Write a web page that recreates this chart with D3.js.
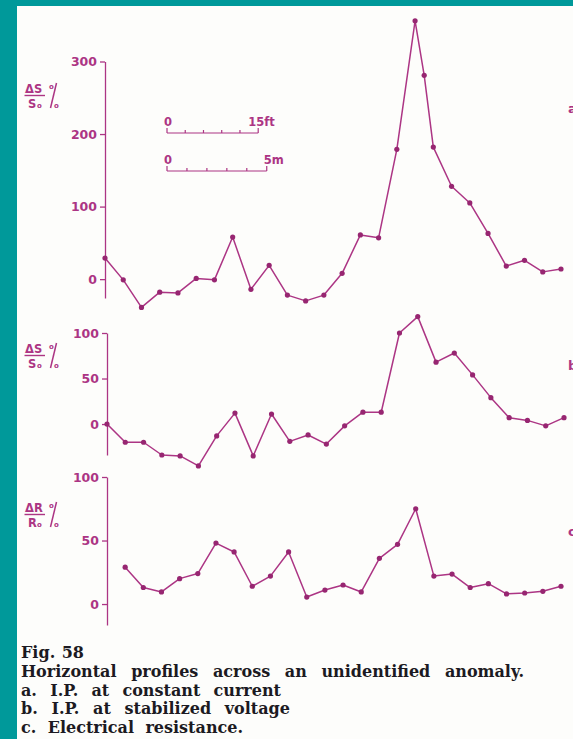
<!DOCTYPE html>
<html>
<head>
<meta charset="utf-8">
<script src="https://cdn.jsdelivr.net/npm/d3@7"></script>
<style>
  html, body { margin: 0; padding: 0; background: #00999a; }
  svg { display: block; }
</style>
</head>
<body>
<svg id="fig" width="573" height="739"></svg>
<script>
// Station positions along the profile (feet) and readings for each profile
const stationsA = [0,3,6,9,12,15,18,21,24,27,30,33,36,39,42,45,48,51,52.5,54,57,60,63,66,69,72,75];
const valuesA   = [29,-1,-39,-18,-19,1,-1,58,-14,19,-22,-30,-22,8,61,57,179,356,281,182,128,105,63,18,26,10,14];

const stationsB = [0,3,6,9,12,15,18,21,24,27,30,33,36,39,42,45,48,51,54,57,60,63,66,69,72,75];
const valuesB   = [0,-20,-20,-34,-35,-46,-13,12,-35,11,-19,-12,-22,-2,13,13,100,118,68,78,54,29,7,4,-2,7];

const stationsC = [3,6,9,12,15,18,21,24,27,30,33,36,39,42,45,48,51,54,57,60,63,66,69,72,75];
const valuesC   = [29,13,9.5,20,24,48,41,14,22,41,5.5,11,15,9.5,36,47,75,22,23.6,13,16,8,8.7,10,14];

const ticksA = [0,100,200,300];
const ticksB = [0,50,100];
const ticksC = [0,50,100];

const captionLines = [
  "Fig. 58",
  "Horizontal profiles across an unidentified anomaly.",
  "a. I.P. at constant current",
  "b. I.P. at stabilized voltage",
  "c. Electrical resistance."
];
// line widths of the caption, set with wide word spacing
const captionWidths = [63, 503, 260, 269, 222];

const INK = "#ac3584";
const DOT = "#972671";

const svg = d3.select("#fig");

// teal surround and page
svg.append("rect").attr("width", 573).attr("height", 739).attr("fill", "#00999a");
svg.append("rect").attr("x", 17).attr("y", 6).attr("width", 556).attr("height", 733).attr("fill", "#fdfdfb");

const panels = [
  { xs: stationsA, ys: valuesA, ticks: ticksA, xr: [105, 561], yd: [-26, 300], yr: [298, 61.5],
    num: "ΔS", den: "S", top: 93, tag: "a", tagY: 113 },
  { xs: stationsB, ys: valuesB, ticks: ticksB, xr: [107, 564], yd: [-34, 100], yr: [455, 333],
    num: "ΔS", den: "S", top: 353, tag: "b", tagY: 370 },
  { xs: stationsC, ys: valuesC, ticks: ticksC, xr: [107, 561], yd: [-16.5, 100], yr: [625, 477],
    num: "ΔR", den: "R", top: 512, tag: "c", tagY: 536 }
];

panels.forEach(p => {
  const x = d3.scaleLinear().domain([0, 75]).range(p.xr);
  const y = d3.scaleLinear().domain(p.yd).range(p.yr);
  p.x = x;

  const axis = svg.append("g")
    .attr("transform", `translate(${x(0)},0)`)
    .call(d3.axisLeft(y).tickValues(p.ticks).tickSize(5).tickSizeOuter(0).tickPadding(3));
  axis.select(".domain").attr("stroke", INK).attr("stroke-width", 1.3);
  axis.selectAll(".tick line").attr("stroke", INK).attr("stroke-width", 1.3);
  axis.selectAll(".tick text")
    .attr("fill", INK)
    .style("font-family", "'DejaVu Sans', sans-serif")
    .style("font-weight", "bold")
    .style("font-size", "12.5px");

  const pts = p.xs.map((s, i) => [s, p.ys[i]]);
  svg.append("path")
    .datum(pts)
    .attr("fill", "none")
    .attr("stroke", INK)
    .attr("stroke-width", 1.5)
    .attr("stroke-linejoin", "round")
    .attr("d", d3.line().x(d => x(d[0])).y(d => y(d[1])));

  svg.append("g").selectAll("circle")
    .data(pts)
    .join("circle")
    .attr("cx", d => x(d[0]))
    .attr("cy", d => y(d[1]))
    .attr("r", 2.6)
    .attr("fill", DOT);

  // ratio label, e.g. ΔS over S0, with a tall percent sign
  const lab = svg.append("g")
    .attr("fill", INK)
    .style("font-family", "'DejaVu Sans', sans-serif")
    .style("font-weight", "bold");
  lab.append("text").attr("x", 25).attr("y", p.top).style("font-size", "11.5px").text(p.num);
  lab.append("line").attr("x1", 24.5).attr("x2", 45).attr("y1", p.top + 2.5).attr("y2", p.top + 2.5)
    .attr("stroke", INK).attr("stroke-width", 1.4);
  lab.append("text").attr("x", 28).attr("y", p.top + 15).style("font-size", "11.5px").text(p.den);
  lab.append("text").attr("x", 37).attr("y", p.top + 15).style("font-size", "7px").text("o");
  // percent sign: two small rings and a long slash
  lab.append("line").attr("x1", 56.5).attr("y1", p.top - 10).attr("x2", 50.5).attr("y2", p.top + 15)
    .attr("stroke", INK).attr("stroke-width", 1.5);
  lab.append("text").attr("x", 49).attr("y", p.top - 4).style("font-size", "7px").text("o");
  lab.append("text").attr("x", 54).attr("y", p.top + 15).style("font-size", "7px").text("o");

  // profile letter at the right margin
  svg.append("text")
    .attr("x", 568).attr("y", p.tagY)
    .attr("fill", INK)
    .style("font-family", "'DejaVu Sans', sans-serif")
    .style("font-weight", "bold")
    .style("font-size", "13px")
    .text(p.tag);
});

// distance scale bars in feet and metres, drawn with the profile scale
const xs = panels[0].x;
const ftPerM = 3.2808;
const bars = [
  { y: 133, len: 15, ticks: [0,3,6,9,12,15], unit: 1, startLabel: "0", endLabel: "15ft", endDx: -10 },
  { y: 171, len: 5 * ftPerM, ticks: [0,1,2,3,4,5], unit: ftPerM, startLabel: "0", endLabel: "5m", endDx: -3 }
];
const bx0 = 167;
bars.forEach(b => {
  const g = svg.append("g").attr("stroke", INK).attr("stroke-width", 1.2);
  const px = v => bx0 + xs(v) - xs(0);
  g.append("line").attr("x1", px(0)).attr("x2", px(b.len)).attr("y1", b.y).attr("y2", b.y);
  b.ticks.forEach((t, i) => {
    const end = i === 0 || i === b.ticks.length - 1;
    g.append("line").attr("x1", px(t * b.unit)).attr("x2", px(t * b.unit))
      .attr("y1", b.y).attr("y2", b.y - (end ? 5 : 3));
  });
  const tg = svg.append("g").attr("fill", INK)
    .style("font-family", "'DejaVu Sans', sans-serif").style("font-weight", "bold").style("font-size", "11.5px");
  tg.append("text").attr("x", px(0) - 3).attr("y", b.y - 7).text(b.startLabel);
  tg.append("text").attr("x", px(b.len) + b.endDx).attr("y", b.y - 7).text(b.endLabel);
});

// caption: a wide serif, words spread to fill each line's width
const cap = svg.append("g")
  .attr("fill", "#1c1a22")
  .style("font-family", "'DejaVu Serif', 'Liberation Serif', serif")
  .style("font-weight", "bold")
  .style("font-size", "16px");
captionLines.forEach((t, i) => {
  const el = cap.append("text")
    .attr("x", 21)
    .attr("y", 658 + i * 18.8)
    .text(t);
  const natural = el.node().getComputedTextLength();
  const gaps = (t.match(/ /g) || []).length;
  if (gaps > 0) {
    const extra = Math.max(-2, Math.min(10, (captionWidths[i] - natural) / gaps));
    el.style("word-spacing", extra.toFixed(2) + "px");
  }
});
</script>
</body>
</html>
